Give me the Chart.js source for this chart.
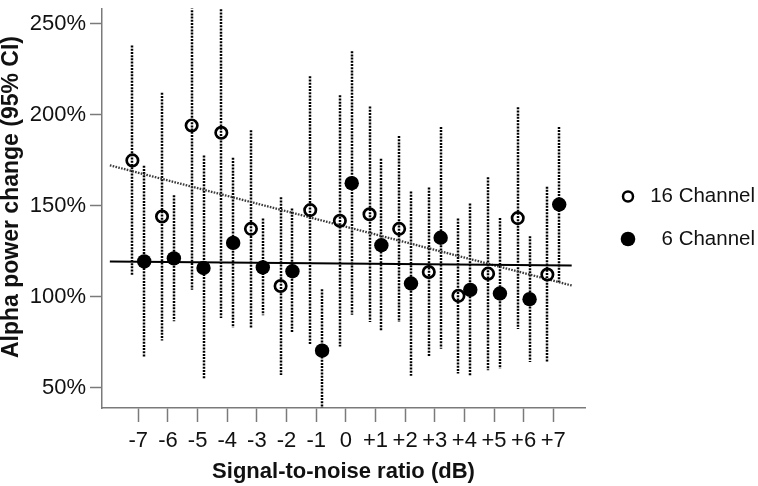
<!DOCTYPE html>
<html><head><meta charset="utf-8">
<script src="https://cdn.jsdelivr.net/npm/chart.js@4/dist/chart.umd.min.js"></script>
<style>html,body{margin:0;padding:0;background:#fff}</style>
</head><body>
<canvas id="c" width="758" height="486"></canvas>
<script>
// ---- data ----
const snrLabels = ['-7','-6','-5','-4','-3','-2','-1','0','+1','+2','+3','+4','+5','+6','+7'];
const snr = [-7,-6,-5,-4,-3,-2,-1,0,1,2,3,4,5,6,7];
const ch16Mean  = [174.9,144.1,194.1,190.1,137.3,105.9,147.6,141.7,145.3,137.3,113.6,100.5,112.7,143.2,112.2];
const ch16Upper = [238,212,275,272,191.4,154.6,221.1,210.7,204.5,188.3,160,143,165.6,204.1,160.5];
const ch16Lower = [111.6,76,103.8,88.3,82.6,57,73.7,72.7,86.2,86.2,66.8,57.9,59.7,82.3,63.8];
const ch6Mean   = [119.4,121.1,115.8,129.6,116.1,114,70.4,162.4,128.3,107.3,132.4,103.8,101.8,98.7,150.7];
const ch6Upper  = [172,155.7,177.6,176.3,143,148.5,104.1,234.9,175.8,157.8,193.3,151.2,143.2,133.3,193.3];
const ch6Lower  = [66.5,86.6,54.5,83,89.8,80.3,35,90.1,81.2,56.6,71.5,56.6,60.5,64.1,108];
const fit16X = [-7.96, 7.62];
const fit16Y = [172.2, 106.2];
const fit6X  = [-7.96, 7.62];
const fit6Y  = [119.4, 117.2];
const yTicks = [50,100,150,200,250];
const seriesNames = ['16 Channel', '\u20076 Channel'];
const xTitle = 'Signal-to-noise ratio (dB)';
const yTitle = 'Alpha power change (95% CI)';

// ---- style ----
const FAM = '"Liberation Sans", Arial, Helvetica, sans-serif';
const AXIS = '#7a7a7a';
const DODGE = 0.2;

const openPts = snr.map((x,i)=>({x:x-DODGE, y:ch16Mean[i]}));
const fillPts = snr.map((x,i)=>({x:x+DODGE, y:ch6Mean[i]}));

const errorBars = {
  id:'errorBars',
  beforeDatasetsDraw(chart){
    const {ctx, chartArea:a, scales:{x, y}} = chart;
    ctx.save();
    ctx.beginPath(); ctx.rect(a.left, a.top, a.right-a.left, a.bottom-a.top); ctx.clip();
    ctx.strokeStyle = '#000'; ctx.lineWidth = 2.5; ctx.setLineDash([2,1.2]);
    const groups = [[-DODGE, ch16Upper, ch16Lower],[DODGE, ch6Upper, ch6Lower]];
    groups.forEach(([off, up, lo])=>{
      snr.forEach((v,i)=>{
        const px = Math.round(x.getPixelForValue(v+off));
        ctx.beginPath();
        ctx.moveTo(px, y.getPixelForValue(up[i]));
        ctx.lineTo(px, y.getPixelForValue(lo[i]));
        ctx.stroke();
      });
    });
    ctx.restore();
  }
};

const textPlugin = {
  id:'customText',
  afterDraw(chart){
    const {ctx, chartArea:a} = chart;
    ctx.save();
    // y-axis title
    ctx.translate(12, 197);
    ctx.rotate(-Math.PI/2);
    ctx.fillStyle = '#111';
    ctx.font = 'bold 23px ' + FAM;
    ctx.textAlign = 'center'; ctx.textBaseline = 'middle';
    ctx.fillText(yTitle, 0, 0);
    ctx.restore();

    // legend
    const cx = a.right + 43;
    const rows = [196.5, 239];
    ctx.save();
    ctx.beginPath(); ctx.arc(cx, rows[0], 5, 0, Math.PI*2);
    ctx.lineWidth = 2.5; ctx.strokeStyle = '#000'; ctx.stroke();
    ctx.beginPath(); ctx.arc(cx, rows[1], 7.3, 0, Math.PI*2);
    ctx.fillStyle = '#000'; ctx.fill();
    ctx.fillStyle = '#111';
    ctx.font = '20.5px ' + FAM;
    ctx.textAlign = 'right'; ctx.textBaseline = 'middle';
    ctx.fillText(seriesNames[0], 755, rows[0]);
    ctx.fillText(seriesNames[1], 755, rows[1]);
    ctx.restore();
  }
};

new Chart(document.getElementById('c'), {
  type:'scatter',
  data:{
    datasets:[
      {label:seriesNames[1], data:fillPts, pointRadius:7.2, pointBorderWidth:0,
       pointBackgroundColor:'#000', pointBorderColor:'#000', showLine:false},
      {label:seriesNames[0], data:openPts, pointRadius:5.7, pointBorderWidth:2.7,
       pointBackgroundColor:'rgba(0,0,0,0)', pointBorderColor:'#000', showLine:false},
      {type:'line', label:'fit6', data:fit6X.map((x,i)=>({x, y:fit6Y[i]})),
       borderColor:'#000', borderWidth:2, pointRadius:0, fill:false},
      {type:'line', label:'fit16', data:fit16X.map((x,i)=>({x, y:fit16Y[i]})),
       borderColor:'#3a3a3a', borderWidth:2.3, borderDash:[1.6,1.3], pointRadius:0, fill:false}
    ]
  },
  options:{
    responsive:false, animation:false, devicePixelRatio:1,
    layout:{padding:{left:0, right:173, top:0, bottom:0}},
    plugins:{legend:{display:false}, tooltip:{enabled:false}},
    scales:{
      x:{
        type:'linear', min:-8.225, max:8.07,
        afterBuildTicks:s=>{ s.ticks = snr.map(v=>({value:v})); },
        afterFit:s=>{ s.height = 78; s.paddingLeft = 0; s.paddingRight = 0; },
        border:{display:true, color:AXIS, width:1.5},
        grid:{display:true, drawOnChartArea:false, drawTicks:true, tickLength:14, tickColor:AXIS, tickWidth:1.5},
        ticks:{color:'#111', font:{family:FAM, size:22}, padding:6, autoSkip:false, maxRotation:0,
               callback:(v)=>snrLabels[snr.indexOf(v)]},
        title:{display:true, text:xTitle, color:'#111',
               font:{family:FAM, size:22, weight:'bold', lineHeight:1}, padding:{top:0,bottom:3}}
      },
      y:{
        type:'linear', min:38.9, max:258.4,
        afterBuildTicks:s=>{ s.ticks = yTicks.map(v=>({value:v})); },
        afterFit:s=>{ s.width = 102; s.paddingTop = 0; s.paddingBottom = 0; },
        border:{display:true, color:AXIS, width:1.5},
        grid:{display:true, drawOnChartArea:false, drawTicks:true, tickLength:12, tickColor:AXIS, tickWidth:1.5},
        ticks:{color:'#111', font:{family:FAM, size:22}, padding:4, callback:v=>v+'%'},
        title:{display:false}
      }
    }
  },
  plugins:[errorBars, textPlugin]
});
</script>
</body></html>
